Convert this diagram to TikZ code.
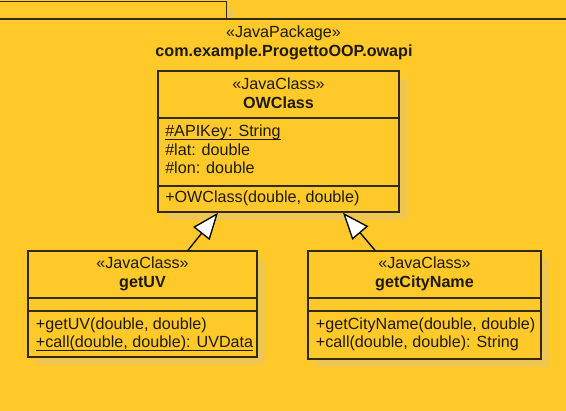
\documentclass[tikz,border=0pt]{standalone}
\usepackage{fontspec}
\setmainfont{Liberation Sans}
\usepackage{tikz}
\usetikzlibrary{calc,arrows.meta,shadows}

\definecolor{pkgyellow}{RGB}{255,201,41}
\definecolor{shadowyellow}{RGB}{240,198,82}
\definecolor{umlline}{RGB}{50,40,10}
\definecolor{umltext}{RGB}{30,26,12}

\newcommand{\ulined}[1]{\setbox0\hbox{#1}\rlap{\rule[-2.3pt]{\wd0}{0.8pt}}\box0}

\tikzset{
  uml/.style={font=\fontsize{12.1pt}{14pt}\selectfont, text=umltext, inner sep=0pt},
  umlbold/.style={uml, font=\fontsize{12.1pt}{14pt}\selectfont\bfseries},
  classbox/.style={draw=umlline, fill=pkgyellow, line width=1.1pt, inner sep=0pt,
    general shadow={fill=shadowyellow, shadow xshift=6pt, shadow yshift=-6pt}},
  divider/.style={draw=umlline, line width=1.1pt},
  inherits/.style={-{Triangle[open, length=20pt, width=15.6pt, fill=white]}, line width=1pt, draw=black},
}

\begin{document}
\begin{tikzpicture}[x=0.75pt, y=-0.75pt]
\useasboundingbox (0,0) rectangle (566,410);
\clip (0,0) rectangle (566,410);
\fill [pkgyellow] (0,0) rectangle (566,410);

\node [classbox, minimum width=171pt, minimum height=13pt, anchor=north west] (tab) at (-2,1) {};
\node [classbox, minimum width=450pt, minimum height=320pt, anchor=north west] (package) at (-2,18.3) {};
\node [uml, anchor=base] (pkgstereo) at (283.5,37.3) {«JavaPackage»};
\node [umlbold, anchor=base] (pkgname) at (284,56.7) {com.example.ProgettoOOP.owapi};

\node [classbox, minimum width=180.75pt, minimum height=105.75pt] (owclass) at (278.5,141.5) {};
\draw [divider] (owclass.west |- 0,118) -- (owclass.east |- 0,118);
\draw [divider] (owclass.west |- 0,186) -- (owclass.east |- 0,186);
\node [uml, anchor=base] (owstereo) at (278.5,89.3) {«JavaClass»};
\node [umlbold, anchor=base] (owname) at (278.5,108.3) {OWClass};
\node [uml, anchor=base west] (owapikey) at (165,136.7) {\ulined{\#APIKey: String}};
\node [uml, anchor=base west] (owlat) at (165,155) {\#lat: double};
\node [uml, anchor=base west] (owlon) at (165,173.3) {\#lon: double};
\node [uml, anchor=base west] (owctor) at (165,202.7) {+OWClass(double, double)};

\node [classbox, minimum width=171.75pt, minimum height=79.5pt] (getuv) at (142.5,304) {};
\draw [divider] (getuv.west |- 0,298) -- (getuv.east |- 0,298);
\draw [divider] (getuv.west |- 0,311) -- (getuv.east |- 0,311);
\node [uml, anchor=base] (uvstereo) at (142.5,268.3) {«JavaClass»};
\node [umlbold, anchor=base] (uvname) at (142.5,287.7) {getUV};
\node [uml, anchor=base west] (uvget) at (35.7,329.3) {+getUV(double, double)};
\node [uml, anchor=base west] (uvcall) at (35.7,347.7) {\ulined{+call(double, double): UVData}};

\node [classbox, minimum width=174.75pt, minimum height=81pt] (getcity) at (424.5,305) {};
\draw [divider] (getcity.west |- 0,298) -- (getcity.east |- 0,298);
\draw [divider] (getcity.west |- 0,311) -- (getcity.east |- 0,311);
\node [uml, anchor=base] (citystereo) at (424.5,268.3) {«JavaClass»};
\node [umlbold, anchor=base] (cityname) at (424.5,287.7) {getCityName};
\node [uml, anchor=base west] (cityget) at (315.7,329.3) {+getCityName(double, double)};
\node [uml, anchor=base west] (citycall) at (315.7,347.7) {+call(double, double): String};

\draw [inherits] ($(getuv.north)+(45.5,0)$) -- ($(owclass.south)+(-60.5,0)$);
\draw [inherits] ($(getcity.north)+(-49.5,0)$) -- ($(owclass.south)+(64.5,0)$);
\end{tikzpicture}
\end{document}
